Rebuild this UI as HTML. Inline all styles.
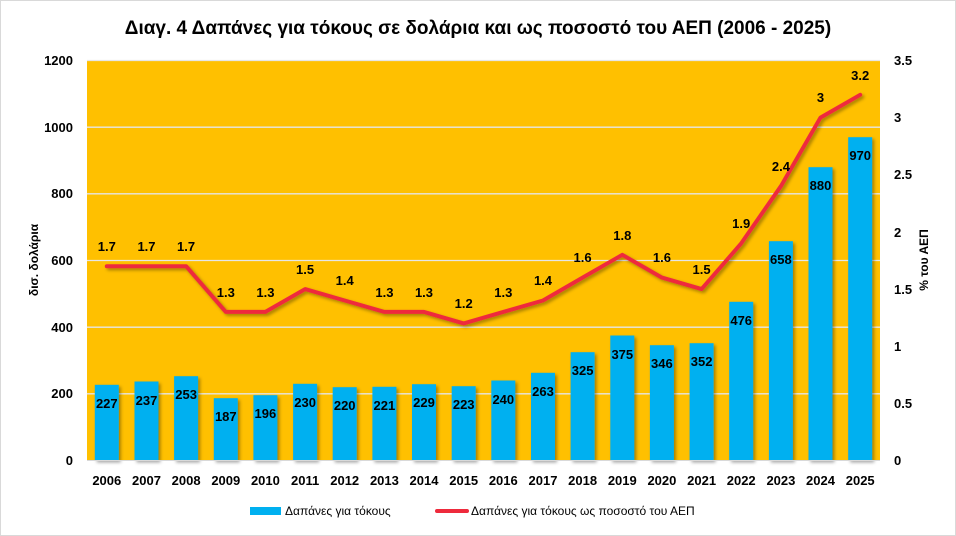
<!DOCTYPE html>
<html><head><meta charset="utf-8"><style>
body{margin:0;background:#fff}
svg{display:block;font-family:"Liberation Sans",Arial,sans-serif}
</style></head><body>
<svg width="956" height="536" viewBox="0 0 956 536" xmlns="http://www.w3.org/2000/svg">
<defs><filter id="sh" x="-20%" y="-20%" width="140%" height="140%"><feDropShadow dx="2" dy="2" stdDeviation="1.5" flood-color="#000" flood-opacity="0.35"/></filter></defs>
<rect x="0.5" y="0.5" width="955" height="535" fill="#fff" stroke="#d9d9d9"/>
<text x="478" y="34" text-anchor="middle" font-size="19" font-weight="bold">Διαγ. 4  Δαπάνες για τόκους σε δολάρια και ως ποσοστό του ΑΕΠ (2006 - 2025)</text>
<rect x="87" y="60.5" width="793" height="400" fill="#FFC000"/>
<g stroke="#e6e6e6" stroke-width="1.3">
<line x1="87" x2="880" y1="60.5" y2="60.5"/><line x1="87" x2="880" y1="127.2" y2="127.2"/><line x1="87" x2="880" y1="193.8" y2="193.8"/><line x1="87" x2="880" y1="260.5" y2="260.5"/><line x1="87" x2="880" y1="327.2" y2="327.2"/><line x1="87" x2="880" y1="393.8" y2="393.8"/>
</g>
<g font-size="13" font-weight="bold" text-anchor="end">
<text x="73" y="65">1200</text><text x="73" y="132">1000</text><text x="73" y="198">800</text><text x="73" y="265">600</text><text x="73" y="332">400</text><text x="73" y="398">200</text><text x="73" y="465">0</text>
</g>
<g font-size="13" font-weight="bold">
<text x="894" y="65">3.5</text><text x="894" y="122">3</text><text x="894" y="179">2.5</text><text x="894" y="237">2</text><text x="894" y="294">1.5</text><text x="894" y="351">1</text><text x="894" y="408">0.5</text><text x="894" y="465">0</text>
</g>
<text transform="translate(38,260) rotate(-90)" text-anchor="middle" font-size="12" font-weight="bold">δισ. δολάρια</text>
<text transform="translate(928,260) rotate(-90)" text-anchor="middle" font-size="12" font-weight="bold">% του ΑΕΠ</text>
<g fill="#00B0F0" filter="url(#sh)">
<rect x="94.8" y="384.8" width="24" height="75.7"/><rect x="134.5" y="381.5" width="24" height="79"/><rect x="174.1" y="376.2" width="24" height="84.3"/><rect x="213.8" y="398.2" width="24" height="62.3"/><rect x="253.4" y="395.2" width="24" height="65.3"/><rect x="293.1" y="383.8" width="24" height="76.7"/><rect x="332.7" y="387.2" width="24" height="73.3"/><rect x="372.4" y="386.8" width="24" height="73.7"/><rect x="412" y="384.2" width="24" height="76.3"/><rect x="451.7" y="386.2" width="24" height="74.3"/><rect x="491.3" y="380.5" width="24" height="80"/><rect x="531" y="372.8" width="24" height="87.7"/><rect x="570.6" y="352.2" width="24" height="108.3"/><rect x="610.3" y="335.5" width="24" height="125"/><rect x="649.9" y="345.2" width="24" height="115.3"/><rect x="689.6" y="343.2" width="24" height="117.3"/><rect x="729.2" y="301.8" width="24" height="158.7"/><rect x="768.9" y="241.2" width="24" height="219.3"/><rect x="808.5" y="167.2" width="24" height="293.3"/><rect x="848.2" y="137.2" width="24" height="323.3"/>
</g>
<line x1="87" x2="880" y1="460.5" y2="460.5" stroke="#d9d9d9"/>
<g font-size="13" font-weight="bold" text-anchor="middle">
<text x="106.8" y="408">227</text><text x="146.5" y="405">237</text><text x="186.1" y="399">253</text><text x="225.8" y="421">187</text><text x="265.4" y="418">196</text><text x="305.1" y="407">230</text><text x="344.7" y="410">220</text><text x="384.4" y="410">221</text><text x="424" y="407">229</text><text x="463.7" y="409">223</text><text x="503.3" y="404">240</text><text x="543" y="396">263</text><text x="582.6" y="375">325</text><text x="622.3" y="359">375</text><text x="661.9" y="368">346</text><text x="701.6" y="366">352</text><text x="741.2" y="325">476</text><text x="780.9" y="264">658</text><text x="820.5" y="190">880</text><text x="860.2" y="160">970</text>
</g>
<polyline filter="url(#sh)" fill="none" stroke="#EE2A3C" stroke-width="4" stroke-linejoin="round" stroke-linecap="round" points="106.8,266.2 146.5,266.2 186.1,266.2 225.8,311.9 265.4,311.9 305.1,289.1 344.7,300.5 384.4,311.9 424,311.9 463.7,323.4 503.3,311.9 543,300.5 582.6,277.6 622.3,254.8 661.9,277.6 701.6,289.1 741.2,243.4 780.9,186.2 820.5,117.6 860.2,94.8"/>
<g font-size="13" font-weight="bold" text-anchor="middle">
<text x="106.8" y="251">1.7</text><text x="146.5" y="251">1.7</text><text x="186.1" y="251">1.7</text><text x="225.8" y="297">1.3</text><text x="265.4" y="297">1.3</text><text x="305.1" y="274">1.5</text><text x="344.7" y="285">1.4</text><text x="384.4" y="297">1.3</text><text x="424" y="297">1.3</text><text x="463.7" y="308">1.2</text><text x="503.3" y="297">1.3</text><text x="543" y="285">1.4</text><text x="582.6" y="262">1.6</text><text x="622.3" y="240">1.8</text><text x="661.9" y="262">1.6</text><text x="701.6" y="274">1.5</text><text x="741.2" y="228">1.9</text><text x="780.9" y="171">2.4</text><text x="820.5" y="102">3</text><text x="860.2" y="80">3.2</text>
</g>
<g font-size="13" font-weight="bold" text-anchor="middle">
<text x="106.8" y="485">2006</text><text x="146.5" y="485">2007</text><text x="186.1" y="485">2008</text><text x="225.8" y="485">2009</text><text x="265.4" y="485">2010</text><text x="305.1" y="485">2011</text><text x="344.7" y="485">2012</text><text x="384.4" y="485">2013</text><text x="424" y="485">2014</text><text x="463.7" y="485">2015</text><text x="503.3" y="485">2016</text><text x="543" y="485">2017</text><text x="582.6" y="485">2018</text><text x="622.3" y="485">2019</text><text x="661.9" y="485">2020</text><text x="701.6" y="485">2021</text><text x="741.2" y="485">2022</text><text x="780.9" y="485">2023</text><text x="820.5" y="485">2024</text><text x="860.2" y="485">2025</text>
</g>
<rect x="250" y="507" width="31" height="8" fill="#00B0F0"/>
<text x="285" y="515" font-size="12">Δαπάνες για τόκους</text>
<line x1="437" x2="467" y1="511" y2="511" stroke="#EE2A3C" stroke-width="4" stroke-linecap="round"/>
<text x="471" y="515" font-size="12">Δαπάνες για τόκους ως ποσοστό του ΑΕΠ</text>
</svg>
</body></html>
